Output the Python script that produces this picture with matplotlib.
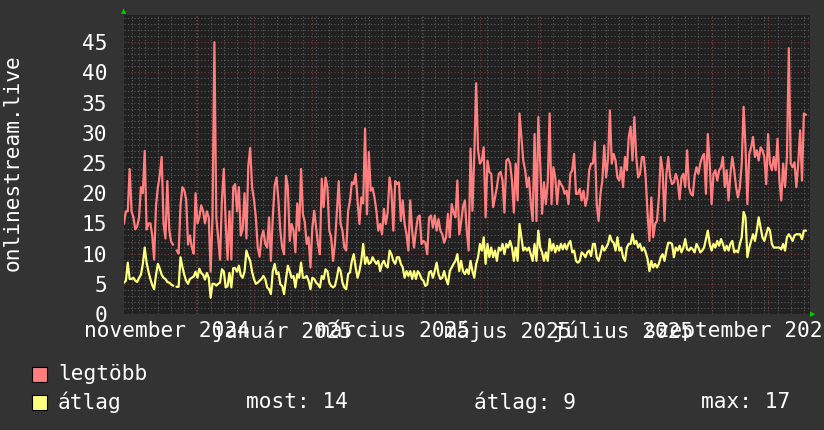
import numpy as np
import pandas as pd
import matplotlib
matplotlib.use('Agg')
import matplotlib.pyplot as plt
from matplotlib.patches import Rectangle

nan = np.nan

# daily values, first day 2024-10-24
legtobb = [
    15, 17, 17, 24, 17, 16, 14, 14.5, 16, 21, 20, 27, 14, 15, 15, 13, 9, 18, 21, 23,
    26, 15, 12.5, 22, 14, 12, 11.5, nan, 10.5, 10, 18, 21, 20.5, 19, 11.5, 13, 11, 10, 20, 15,
    16, 18, 17, 15, 17, 16, 7, 16, 45, 16, 12.5, 9, 19, 24, 15, 9, 17, 9, 21, 21.5,
    17, 21, 13, 14, 20, 12.5, 24.5, 27.5, 21, 19, 16, 11, 9.5,
    12.7, 13.8, 11.6, 11, 16, 8.8, 16, 21.3, 22.6, 18.8, 13.8, 11, 9.9, 22.9, 21, 12.1, 14.9, 13.8, 10.2, 18.3,
    13.8, 24, 16.5, 15.2, 11.6, 12.7, 7.7, 14.3, 17.1, 14.3, 11.6, 9.9, 22.4, 17.7, 22.6, 21, 13.8, 12.7, 8.8, 11.6,
    16.8, 22, 14.9, 13.8, 11, 10.5, 17.1, 18.8, 21.8, 21.5, 23.2, 18.8, 14.9, 19.3, 18.3, 30.7, 16.5, 26.8, 20.4, 20.9,
    19.3, 17.1, 13.8, 14.9, 13.2, 17.4, 14.9, 16.8, 22.6, 20.4, 13.8, 22, 21.5,
    21.8, 15.4, 18.8, 14.9, 13.2, 10.5, 18.8, 13.8, 11.0, 13.8, 16.0, 16.3, 11.6, 12.1, 11.8, 9.9, 16.0, 16.3, 14.3, 16.3,
    13.8, 15.7, 13.8, 13.2, 11.8, 12.7, 16.6, 12.7, 18.2, 16.8, 16.0, 22.1, 13.2, 15.2, 17.7, 18.8, 13.8, 10.5, 27.4, 17.1,
    26.5, 38.2, 27.1, 24.9, 25.4, 27.6, 16.0, 25.4, 23.5, 23.2, 17.7, 19.3, 21.0, 23.2, 23.5, 22.1, 16.8, 25.4, 25.7, 24.9,
    22.1, 16.8, 24.9, 18.8, 33.2, 29.3, 25.4, 23.8, 21.0, 22.6, 18.2, 15.4, 29.8,
    15.4, 32.6, 24.9, 16.6, 21.8, 18.2, 21.8, 33.2, 18.2, 24.3, 22.6, 18.2, 22.1, 21.5, 21.0, 19.9, 20.4, 18.2, 23.2, 23.8,
    26.5, 19.9, 19.9, 20.7, 18.8, 20.4, 17.9, 19.3, 23.8, 24.9, 24.9, 28.5, 18.2, 15.4, 19.9, 22.1, 27.9, 22.6, 25.7, 33.7,
    24.9, 26.5, 25.4, 22.6, 22.1, 24.3, 21.0, 26.0, 23.8, 29.3, 31.0, 25.4, 32.6, 26.0, 22.6, 23.2, 26.0, 26.0, 22.6, 16.6,
    12.1, 19.3, 12.7, 14.9, 15.4, 19.3, 26.0, 23.8, 15.4, 23.2, 26.0, 22.6, 21.5,
    21.8, 23.2, 22.1, 19.0, 22.6, 23.2, 21.0, 27.1, 21.0, 19.9, 19.6, 22.9, 24.3, 23.2, 24.9, 26.0, 26.5, 19.9, 29.8, 24.9,
    18.2, 23.2, 23.8, 22.1, 23.8, 24.3, 26.0, 21.0, 23.8, 18.8, 23.2, 26.0, 23.8, 21.0, 19.3, 21.0, 24.9, 34.3, 27.6, 18.2,
    26.5, 27.6, 29.3, 26.0, 27.1, 25.4, 27.6, 27.1, 26.0, 21.5, 29.8, 24.9, 23.8, 26.0, 23.8, 29.0, 22.1, 18.8, 24.9, 21.0,
    26.0, 44.0, 24.9, 24.3, 25.1, 21.0, 24.9, 30.4, 22.1, 33.2, 33.0,
]

atlag = [
    5.2, 5.5, 8.5, 5.8, 5.8, 6, 5.5, 5.3, 6, 6.5, 8.3, 11, 8.5, 7, 5.8, 4.8, 4.1, 6.5, 8.3, 7.5,
    6.5, 6, 5.8, 5.3, 5.2, 4.9, 4.7, nan, 4.5, 4.5, 9.4, 7.8, 6.5, 5.5, 5, 5.8, 6, 6.2, 7.0, 6,
    7.5, 6.8, 6.5, 5.7, 6.8, 6, 2.7, 5, 5, 4.7, 5, 5.2, 7.4, 7, 4.4, 4.6, 6.8, 4.4, 7.6, 7.6,
    7, 8, 6.4, 6, 7, 10.5, 9.5, 8.8, 7, 5.8, 5, 5.2, 5.5,
    5.8, 6.3, 5.8, 4.4, 4.1, 3.3, 7.1, 8.3, 6.6, 6.9, 4.9, 4.65, 3.3, 5.8, 8.0, 7.1, 6.0, 6.3, 4.4, 6.6,
    6.0, 8.5, 6.0, 6.0, 6.3, 5.5, 4.1, 6.0, 5.8, 5.2, 4.9, 4.4, 6.3, 5.8, 7.4, 7.1, 5.2, 4.65, 4.4, 4.65,
    6.0, 7.7, 7.1, 5.2, 4.4, 4.1, 6.6, 6.9, 8.8, 9.9, 7.7, 6.0, 7.1, 8.8, 11.6, 8.3, 9.4, 8.3, 8.5, 9.4,
    8.8, 8.3, 8.8, 7.1, 8.3, 8.8, 8.0, 7.7, 10.5, 9.9, 8.8, 8.3, 9.4,
    9.4, 8.3, 7.7, 6.0, 7.1, 6.3, 7.1, 5.8, 7.1, 5.8, 7.1, 6.6, 5.8, 5.5, 4.65, 4.9, 6.9, 7.1, 6.0, 7.1,
    8.5, 6.6, 5.8, 6.0, 7.1, 5.8, 4.9, 7.1, 7.7, 8.3, 8.8, 9.9, 7.1, 8.8, 7.1, 6.6, 7.4, 6.6, 8.8, 7.1,
    6.0, 8.3, 9.4, 11.6, 10.5, 12.7, 8.3, 11.6, 9.4, 11.0, 9.4, 10.5, 8.8, 11.0, 10.5, 11.6, 9.9, 11.6, 11.0, 12.1,
    11.0, 8.8, 11.0, 8.8, 14.9, 12.7, 10.5, 11.0, 10.5, 11.0, 9.9, 8.8, 11.6,
    8.8, 13.8, 11.0, 10.2, 8.8, 10.2, 8.8, 12.4, 10.5, 11.6, 10.2, 11.3, 10.5, 11.6, 10.7, 11.6, 10.7, 11.6, 12.1, 10.2,
    10.5, 8.8, 8.5, 8.8, 10.2, 9.9, 9.4, 10.2, 10.5, 9.6, 11.6, 11.6, 9.4, 8.8, 9.9, 11.3, 10.5, 11.0, 11.6, 13.0,
    12.1, 11.8, 10.5, 12.7, 10.5, 11.0, 9.4, 8.8, 11.0, 11.6, 11.6, 13.2, 11.6, 12.1, 11.0, 11.6, 10.5, 11.0, 10.2, 9.1,
    7.1, 8.8, 7.7, 8.3, 7.7, 8.3, 9.4, 9.9, 8.8, 10.5, 11.8, 11.8, 11.6,
    9.4, 11.0, 10.5, 11.3, 10.2, 11.0, 12.4, 10.7, 10.5, 11.0, 10.7, 10.2, 11.6, 11.0, 10.2, 10.5, 11.0, 12.4, 13.8, 11.6,
    10.5, 11.6, 11.0, 12.1, 11.3, 12.4, 11.6, 10.5, 11.3, 10.5, 11.6, 12.1, 10.2, 10.5, 10.2, 11.6, 12.7, 16.9, 16.0, 9.4,
    11.0, 12.1, 13.2, 12.1, 13.8, 16.0, 14.3, 12.7, 12.1, 13.2, 14.3, 13.8, 11.6, 11.0, 11.0, 11.0, 11.0, 10.7, 11.6, 10.5,
    12.7, 13.2, 12.7, 12.1, 13.0, 13.2, 13.2, 13.2, 12.4, 13.8, 13.8,
]

dates = pd.date_range('2024-10-24', periods=len(legtobb), freq='D')

month_labels = ['november 2024', 'január 2025', 'március 2025',
                'május 2025', 'július 2025', 'szeptember 2025']
label_dates = pd.to_datetime(['2024-11-16', '2025-01-16', '2025-03-16',
                              '2025-05-16', '2025-07-16', '2025-09-16'])

red = '#ff7f7f'
yellow = '#ffff7f'
bg = '#333333'
plot_bg = '#212121'
fs = 15.2

plt.rcParams['font.family'] = ['DejaVu Sans Mono']

fig = plt.figure(figsize=(8.24, 4.30), dpi=100, facecolor=bg)
ax = fig.add_axes([124/824, 1 - 314/430, 686/824, 299/430])
ax.set_facecolor(plot_bg)

# grid: weekly / monthly, 1 / 5 units
for d in pd.date_range('2024-10-28', '2025-10-23', freq='W-MON'):
    ax.axvline(d, color='#5c5c5c', lw=0.8, ls=(0, (1, 2)), zorder=1)
for d in pd.date_range('2024-11-01', '2025-10-23', freq='MS'):
    ax.axvline(d, color='#7a3a3a', lw=0.8, ls=(0, (1, 2)), zorder=1.5)
for v in range(1, 50):
    if v % 5:
        ax.axhline(v, color='#5c5c5c', lw=0.8, ls=(0, (1, 2)), zorder=1)
for v in range(5, 50, 5):
    ax.axhline(v, color='#7a3a3a', lw=0.8, ls=(0, (1, 2)), zorder=1.5)

ax.plot(dates, legtobb, color=red, lw=1.6, zorder=3)
ax.plot(dates, atlag, color=yellow, lw=1.6, zorder=4)

ax.set_xlim(pd.Timestamp('2024-10-24'), pd.Timestamp('2025-10-23 06:00'))
ax.set_ylim(0, 49.5)
ax.set_yticks(range(0, 50, 5))
ax.set_xticks(label_dates)
ax.set_xticklabels(month_labels)
ax.tick_params(axis='y', length=0, pad=12, labelsize=fs, colors='white')
ax.tick_params(axis='x', length=0, pad=5, labelsize=fs, colors='white')
for s in ax.spines.values():
    s.set_visible(False)

# green arrows like rrdtool
fig.text(124/824, 1 - 11/430, '\u25b2', color='#00cc00', fontsize=5,
         ha='center', va='center', family='DejaVu Sans')
fig.text(813/824, 1 - 314/430, '\u25b6', color='#00cc00', fontsize=5,
         ha='center', va='center', family='DejaVu Sans')

fig.text(13/824, 1 - 163/430, 'onlinestream.live', rotation=90, color='white',
         fontsize=fs, ha='center', va='center')

# legend
fig.patches.append(Rectangle((32/824, 1 - 382/430), 15/824, 15/430, transform=fig.transFigure,
                             facecolor=red, edgecolor='black', lw=0.8))
fig.patches.append(Rectangle((32/824, 1 - 410/430), 15/824, 15/430, transform=fig.transFigure,
                             facecolor=yellow, edgecolor='black', lw=0.8))
fig.text(58/824, 1 - 374/430, 'legtöbb', color='white', fontsize=fs, va='center')
fig.text(58/824, 1 - 402/430, 'átlag', color='white', fontsize=fs, va='center')
arr = np.array(atlag, dtype=float)
fig.text(246/824, 1 - 402/430, 'most: %.0f' % arr[-1], color='white', fontsize=fs, va='center')
fig.text(474/824, 1 - 402/430, 'átlag: %.0f' % np.nanmean(arr), color='white', fontsize=fs, va='center')
fig.text(701/824, 1 - 402/430, 'max: %.0f' % np.nanmax(arr), color='white', fontsize=fs, va='center')

fig.savefig('out.png', dpi=100, facecolor=bg)
